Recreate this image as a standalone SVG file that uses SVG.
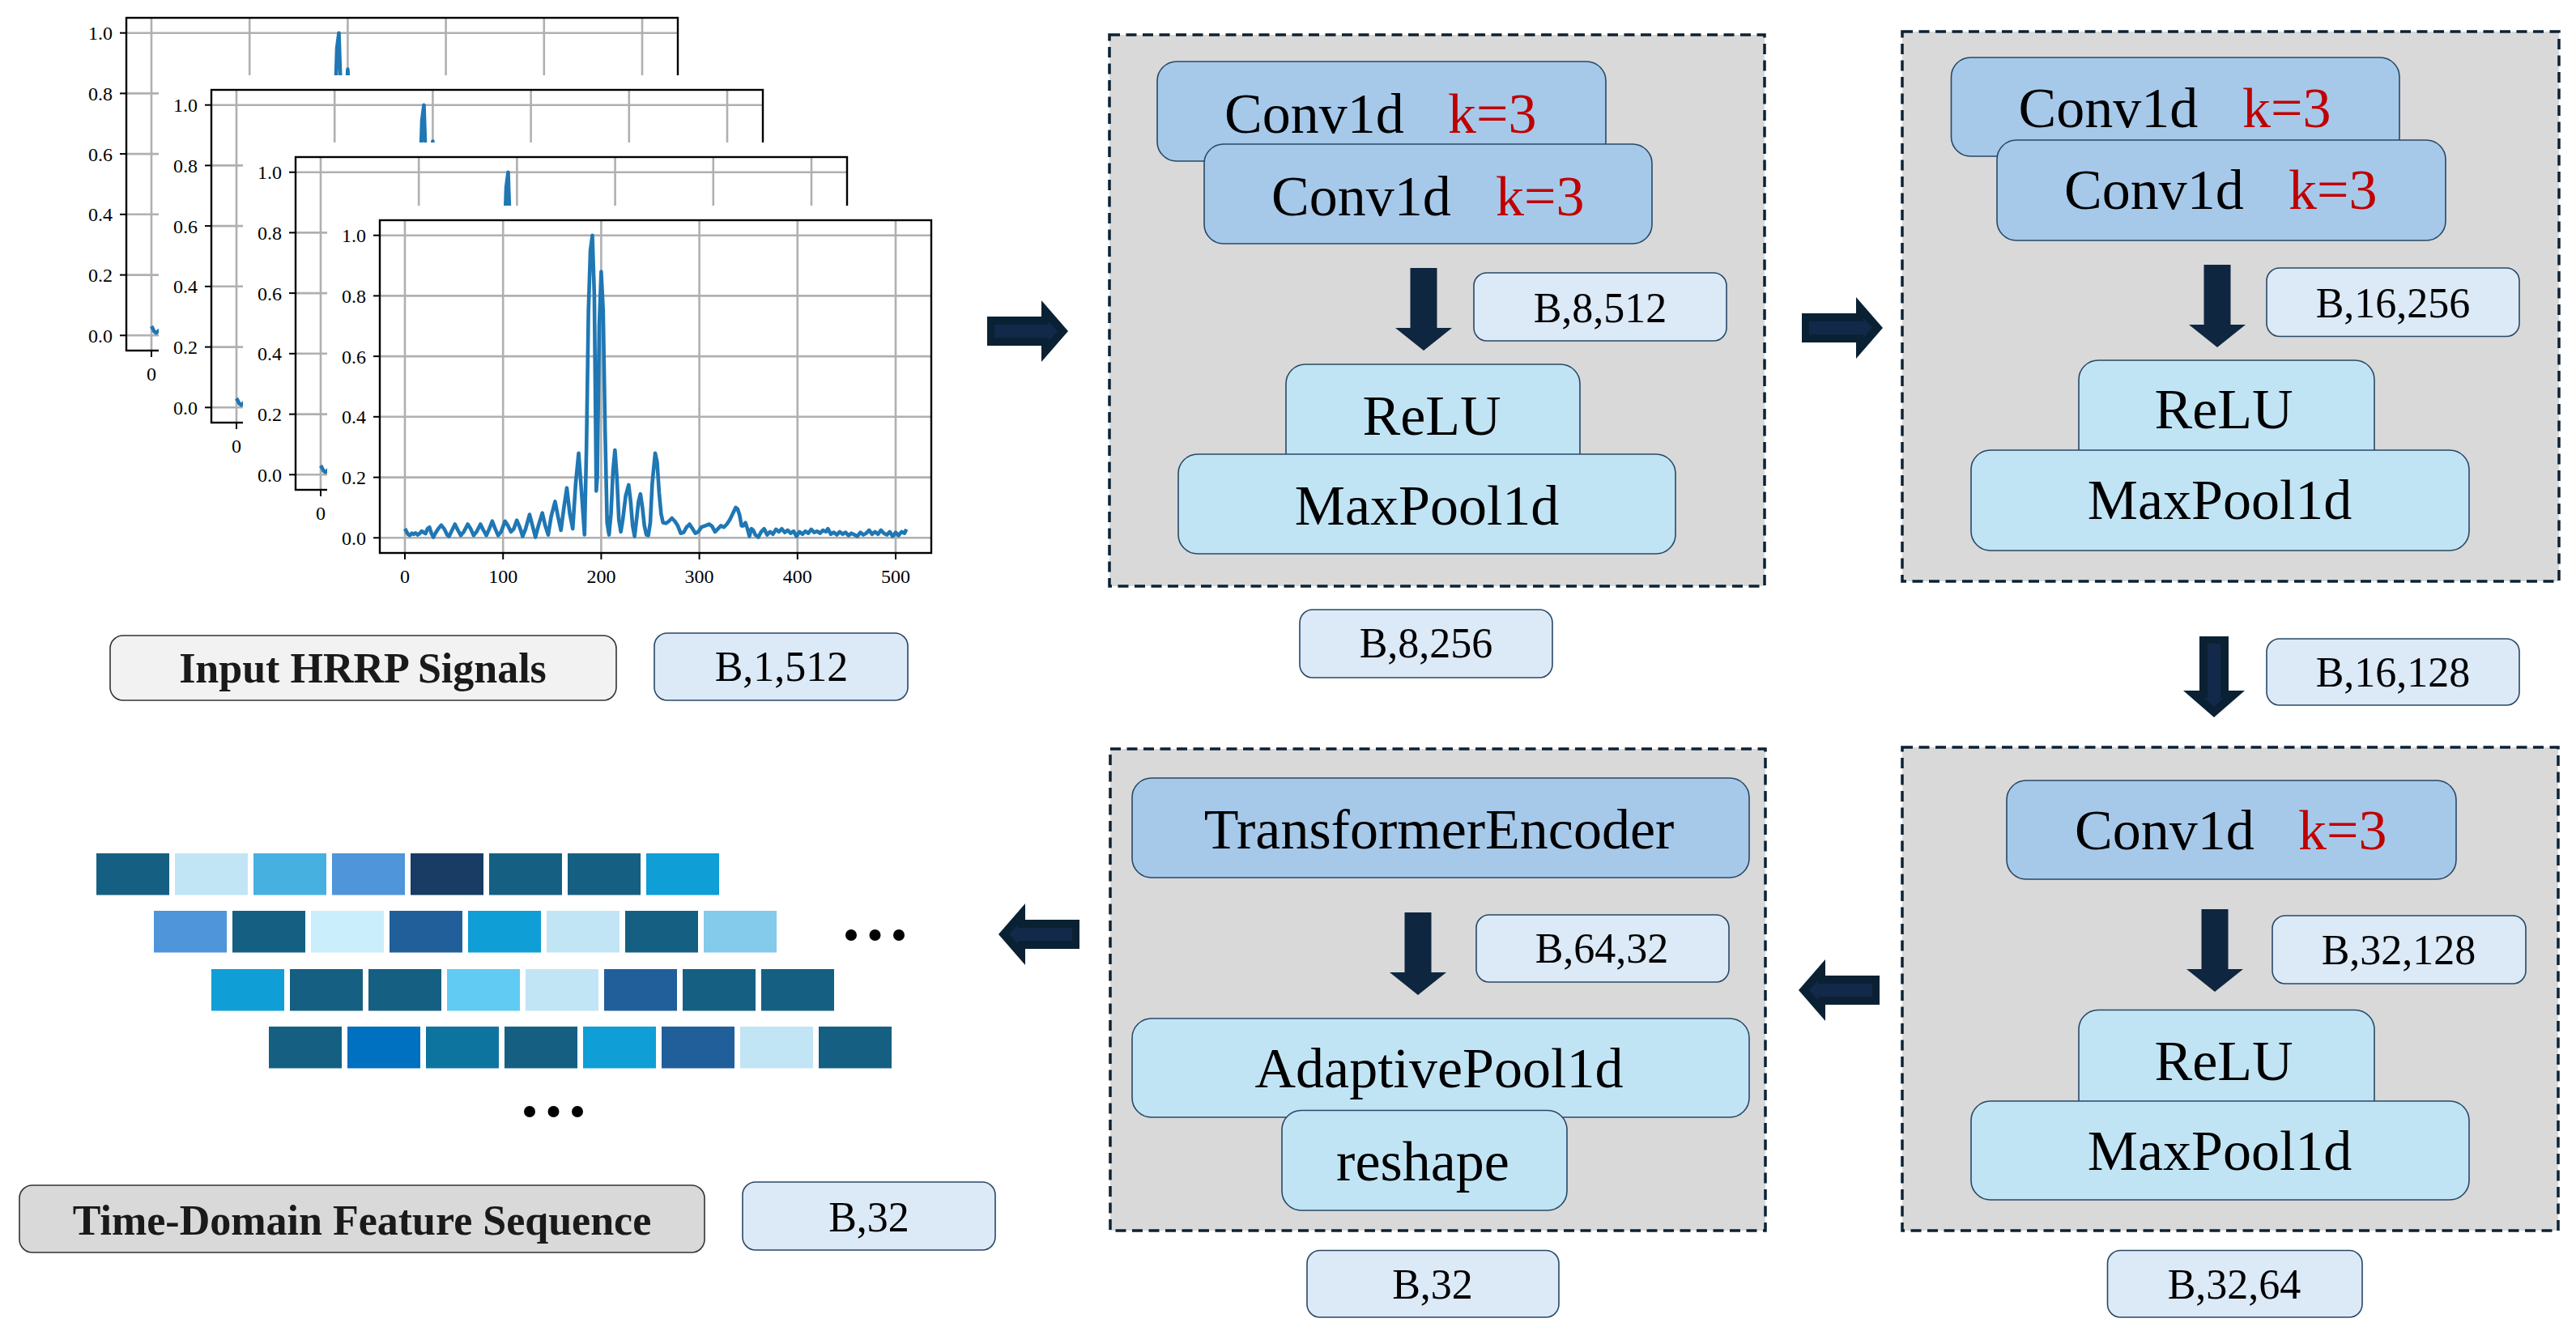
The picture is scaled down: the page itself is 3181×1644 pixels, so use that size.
<svg xmlns="http://www.w3.org/2000/svg" width="3181" height="1644" viewBox="0 0 3181 1644">
<style>
.tk{font-family:"Liberation Serif","Times New Roman",serif;font-size:24px;fill:#000}
.nd{font-family:"Liberation Serif","Times New Roman",serif;font-size:70px;fill:#000}
.lb{font-family:"Liberation Serif","Times New Roman",serif;font-size:52px;fill:#000}
.bt{font-family:"Liberation Serif","Times New Roman",serif;font-size:52px;font-weight:bold;fill:#1a1a1a}
.red{fill:#c00000}
.cont{fill:#d9d9d9;stroke:#0c2234;stroke-width:3.5;stroke-dasharray:13 7.5}
.conv{fill:#a6c9ea;stroke:#284866;stroke-width:1.6}
.lt{fill:#c1e4f5;stroke:#284866;stroke-width:1.6}
.lab{fill:#dce9f7;stroke:#284866;stroke-width:1.6}
.grid line{stroke:#b0b0b0;stroke-width:2.6}
.tks line{stroke:#000;stroke-width:2}
</style>
<defs>
<g id="plot">
<rect x="-65" y="-18" width="790" height="485" fill="#fff"/>
<g class="grid">
<line x1="31" y1="0" x2="31" y2="411"/><line x1="152.2" y1="0" x2="152.2" y2="411"/><line x1="273.4" y1="0" x2="273.4" y2="411"/><line x1="394.6" y1="0" x2="394.6" y2="411"/><line x1="515.8" y1="0" x2="515.8" y2="411"/><line x1="637" y1="0" x2="637" y2="411"/>
<line x1="0" y1="392.3" x2="681" y2="392.3"/><line x1="0" y1="317.6" x2="681" y2="317.6"/><line x1="0" y1="242.8" x2="681" y2="242.8"/><line x1="0" y1="168.1" x2="681" y2="168.1"/><line x1="0" y1="93.4" x2="681" y2="93.4"/><line x1="0" y1="18.7" x2="681" y2="18.7"/>
</g>
<polyline transform="translate(31 392.3) scale(1.212 -373.6)" vector-effect="non-scaling-stroke" fill="none" stroke="#1f77b4" stroke-width="4.6" stroke-linejoin="round" points="0,0.030 1,0.025 3,0.012 5,0.008 7,0.015 9,0.012 11,0.016 13,0.010 15,0.014 17,0.022 19,0.018 21,0.014 23,0.030 25,0.035 27,0.015 29,0.002 31,0.015 34,0.030 37,0.042 40,0.030 43,0.010 45,0.005 48,0.025 51,0.045 54,0.025 57,0.008 60,0.020 64,0.045 67,0.030 70,0.008 73,0.020 77,0.045 80,0.025 83,0.008 86,0.030 89,0.055 92,0.030 95,0.008 98,0.020 102,0.055 105,0.040 108,0.020 111,0.030 114,0.058 117,0.035 120,0.005 123,0.030 127,0.077 130,0.040 133,0.002 136,0.040 140,0.082 143,0.040 146,0.010 149,0.070 153,0.120 156,0.070 159,0.025 162,0.100 165,0.165 168,0.080 171,0.030 174,0.180 177,0.280 180,0.150 183,0.010 185,0.300 187,0.750 189,0.950 191,1.000 193,0.800 195,0.155 196,0.200 198,0.700 200,0.880 202,0.750 204,0.350 206,0.050 208,0.010 210,0.080 212,0.220 214,0.290 216,0.200 218,0.060 220,0.020 222,0.060 225,0.140 228,0.175 230,0.120 232,0.040 234,0.005 236,0.060 238,0.120 240,0.145 242,0.100 244,0.040 246,0.010 248,0.008 250,0.050 252,0.180 255,0.280 257,0.250 259,0.150 261,0.080 263,0.050 266,0.048 269,0.055 272,0.065 275,0.055 278,0.040 281,0.015 284,0.018 287,0.035 290,0.045 293,0.030 296,0.015 299,0.020 302,0.035 306,0.040 310,0.045 313,0.038 316,0.020 319,0.030 322,0.040 325,0.035 328,0.045 331,0.060 334,0.080 337,0.100 339,0.095 341,0.075 343,0.040 345,0.040 347,0.050 349,0.030 351,0.005 353,0.030 355,0.025 357,0.010 360,0.002 363,0.020 366,0.030 369,0.010 372,0.020 375,0.012 378,0.028 381,0.020 384,0.030 387,0.018 390,0.025 393,0.015 396,0.022 399,0.005 402,0.020 405,0.012 408,0.022 411,0.015 414,0.028 417,0.018 420,0.022 423,0.015 426,0.025 429,0.020 431,0.030 434,0.012 437,0.018 440,0.010 443,0.020 446,0.012 449,0.018 452,0.008 455,0.015 458,0.010 461,0.005 464,0.018 467,0.010 470,0.015 473,0.025 476,0.012 479,0.020 482,0.012 485,0.025 488,0.015 491,0.010 494,0.020 497,0.005 500,0.018 503,0.008 506,0.020 509,0.015 511,0.028"/>
<rect x="0" y="0" width="681" height="411" fill="none" stroke="#000" stroke-width="2.4"/>
<g class="tks">
<line x1="-8" y1="392.3" x2="0" y2="392.3"/><line x1="-8" y1="317.6" x2="0" y2="317.6"/><line x1="-8" y1="242.8" x2="0" y2="242.8"/><line x1="-8" y1="168.1" x2="0" y2="168.1"/><line x1="-8" y1="93.4" x2="0" y2="93.4"/><line x1="-8" y1="18.7" x2="0" y2="18.7"/>
<line x1="31" y1="411" x2="31" y2="419"/><line x1="152.2" y1="411" x2="152.2" y2="419"/><line x1="273.4" y1="411" x2="273.4" y2="419"/><line x1="394.6" y1="411" x2="394.6" y2="419"/><line x1="515.8" y1="411" x2="515.8" y2="419"/><line x1="637" y1="411" x2="637" y2="419"/>
</g>
<g class="tk" text-anchor="end">
<text x="-17" y="400.8">0.0</text><text x="-17" y="326.1">0.2</text><text x="-17" y="251.3">0.4</text><text x="-17" y="176.6">0.6</text><text x="-17" y="101.9">0.8</text><text x="-17" y="27.2">1.0</text>
</g>
<g class="tk" text-anchor="middle">
<text x="31" y="448">0</text><text x="152.2" y="448">100</text><text x="273.4" y="448">200</text><text x="394.6" y="448">300</text><text x="515.8" y="448">400</text><text x="637" y="448">500</text>
</g>
</g>
<g id="harrow">
<polygon points="0,-18 67,-18 67,-38 100,0 67,38 67,18 0,18" fill="#0a2133"/>
<polygon points="9,-8 76,-8 76,-12 87,0 76,12 76,8 9,8" fill="#13294a"/>
</g>
<polygon id="darrow" points="-16.5,0 16.5,0 16.5,74 35,74 0,102 -35,74 -16.5,74" fill="#0f2640"/>
</defs>
<rect width="3181" height="1644" fill="#fff"/>

<g id="input-signals">
<use href="#plot" transform="translate(156 22)"/>
<use href="#plot" transform="translate(261 111)"/>
<use href="#plot" transform="translate(365 194)"/>
<use href="#plot" transform="translate(469 272)"/>
</g>

<g id="input-label">
<rect x="136" y="785" width="625" height="80" rx="16" fill="#f2f2f2" stroke="#333" stroke-width="1.6"/>
<text class="bt" x="448" y="843" text-anchor="middle">Input HRRP Signals</text>
</g>
<g id="shape-input">
<rect class="lab" x="808" y="782" width="313" height="83" rx="16"/>
<text class="lb" x="965" y="841" text-anchor="middle">B,1,512</text>
</g>

<g id="block1">
<rect class="cont" x="1370" y="43" width="809" height="681"/>
<rect class="conv" x="1429" y="76" width="554" height="123" rx="24"/>
<text class="nd" x="1512" y="163.5">Conv1d<tspan class="red" x="1788">k=3</tspan></text>
<rect class="conv" x="1487" y="178" width="553" height="123" rx="24"/>
<text class="nd" x="1570" y="266">Conv1d<tspan class="red" x="1847">k=3</tspan></text>
<rect class="lab" x="1820" y="337" width="312" height="84" rx="16"/>
<text class="lb" x="1976" y="398" text-anchor="middle">B,8,512</text>
<rect class="lt" x="1588" y="450" width="363" height="150" rx="24"/>
<text class="nd" x="1768" y="537" text-anchor="middle">ReLU</text>
<rect class="lt" x="1455" y="561" width="614" height="123" rx="24"/>
<text class="nd" x="1762" y="647.5" text-anchor="middle">MaxPool1d</text>
</g>
<g id="shape-b8-256">
<rect class="lab" x="1605" y="753" width="312" height="84" rx="16"/>
<text class="lb" x="1761" y="812" text-anchor="middle">B,8,256</text>
</g>

<g id="block2">
<rect class="cont" x="2349" y="39" width="811" height="679"/>
<rect class="conv" x="2409.5" y="71" width="553.5" height="122" rx="24"/>
<text class="nd" x="2492.5" y="157">Conv1d<tspan class="red" x="2769">k=3</tspan></text>
<rect class="conv" x="2466" y="173" width="554" height="124" rx="24"/>
<text class="nd" x="2549" y="258">Conv1d<tspan class="red" x="2826">k=3</tspan></text>
<rect class="lab" x="2799" y="331" width="312" height="84.5" rx="16"/>
<text class="lb" x="2955" y="392" text-anchor="middle">B,16,256</text>
<rect class="lt" x="2567" y="445" width="365" height="150" rx="24"/>
<text class="nd" x="2746" y="529" text-anchor="middle">ReLU</text>
<rect class="lt" x="2434" y="556" width="615" height="124" rx="24"/>
<text class="nd" x="2741" y="640.5" text-anchor="middle">MaxPool1d</text>
</g>
<g id="shape-b16-128">
<rect class="lab" x="2799" y="789" width="312" height="82" rx="16"/>
<text class="lb" x="2955" y="848" text-anchor="middle">B,16,128</text>
</g>

<g id="block3">
<rect class="cont" x="2349" y="923" width="810" height="597"/>
<rect class="conv" x="2478" y="964" width="555" height="122" rx="24"/>
<text class="nd" x="2562" y="1049">Conv1d<tspan class="red" x="2838">k=3</tspan></text>
<rect class="lab" x="2806" y="1131" width="313" height="84" rx="16"/>
<text class="lb" x="2962" y="1191" text-anchor="middle">B,32,128</text>
<rect class="lt" x="2567" y="1247.5" width="365" height="150" rx="24"/>
<text class="nd" x="2746" y="1334" text-anchor="middle">ReLU</text>
<rect class="lt" x="2434" y="1360" width="615" height="122" rx="24"/>
<text class="nd" x="2741" y="1444.5" text-anchor="middle">MaxPool1d</text>
</g>
<g id="shape-b32-64">
<rect class="lab" x="2602.5" y="1544.5" width="314.5" height="82.5" rx="16"/>
<text class="lb" x="2759" y="1604" text-anchor="middle">B,32,64</text>
</g>

<g id="block4">
<rect class="cont" x="1371" y="925" width="809" height="595"/>
<rect class="conv" x="1398" y="961" width="762" height="123" rx="24"/>
<text class="nd" x="1777" y="1048" text-anchor="middle">TransformerEncoder</text>
<rect class="lab" x="1823" y="1130" width="312" height="83" rx="16"/>
<text class="lb" x="1978" y="1189" text-anchor="middle">B,64,32</text>
<rect class="lt" x="1398" y="1258" width="762" height="122" rx="24"/>
<text class="nd" x="1777" y="1343" text-anchor="middle">AdaptivePool1d</text>
<rect class="lt" x="1583" y="1371.5" width="352" height="123.5" rx="24"/>
<text class="nd" x="1757" y="1458" text-anchor="middle">reshape</text>
</g>
<g id="shape-b32-out">
<rect class="lab" x="1614" y="1544.5" width="311" height="82.5" rx="16"/>
<text class="lb" x="1769" y="1604" text-anchor="middle">B,32</text>
</g>

<g id="feature-sequence">
<g>
<rect x="119" y="1054" width="90" height="51.5" fill="#156082"/>
<rect x="216" y="1054" width="90" height="51.5" fill="#c1e5f5"/>
<rect x="313" y="1054" width="90" height="51.5" fill="#46b1e1"/>
<rect x="410" y="1054" width="90" height="51.5" fill="#4e95d9"/>
<rect x="507" y="1054" width="90" height="51.5" fill="#183c63"/>
<rect x="604" y="1054" width="90" height="51.5" fill="#156082"/>
<rect x="701" y="1054" width="90" height="51.5" fill="#156082"/>
<rect x="798" y="1054" width="90" height="51.5" fill="#0f9ed5"/>
</g>
<g>
<rect x="190" y="1125" width="90" height="51.5" fill="#4e95d9"/>
<rect x="287" y="1125" width="90" height="51.5" fill="#156082"/>
<rect x="384" y="1125" width="90" height="51.5" fill="#caeefb"/>
<rect x="481" y="1125" width="90" height="51.5" fill="#215f9a"/>
<rect x="578" y="1125" width="90" height="51.5" fill="#0f9ed5"/>
<rect x="675" y="1125" width="90" height="51.5" fill="#c1e5f5"/>
<rect x="772" y="1125" width="90" height="51.5" fill="#156082"/>
<rect x="869" y="1125" width="90" height="51.5" fill="#83caeb"/>
</g>
<g>
<rect x="261" y="1197" width="90" height="51.5" fill="#0f9ed5"/>
<rect x="358" y="1197" width="90" height="51.5" fill="#156082"/>
<rect x="455" y="1197" width="90" height="51.5" fill="#156082"/>
<rect x="552" y="1197" width="90" height="51.5" fill="#61cbf3"/>
<rect x="649" y="1197" width="90" height="51.5" fill="#c1e5f5"/>
<rect x="746" y="1197" width="90" height="51.5" fill="#215f9a"/>
<rect x="843" y="1197" width="90" height="51.5" fill="#156082"/>
<rect x="940" y="1197" width="90" height="51.5" fill="#156082"/>
</g>
<g>
<rect x="332" y="1268" width="90" height="51.5" fill="#156082"/>
<rect x="429" y="1268" width="90" height="51.5" fill="#0070c0"/>
<rect x="526" y="1268" width="90" height="51.5" fill="#0d74a0"/>
<rect x="623" y="1268" width="90" height="51.5" fill="#156082"/>
<rect x="720" y="1268" width="90" height="51.5" fill="#0f9ed5"/>
<rect x="817" y="1268" width="90" height="51.5" fill="#215f9a"/>
<rect x="914" y="1268" width="90" height="51.5" fill="#c1e5f5"/>
<rect x="1011" y="1268" width="90" height="51.5" fill="#156082"/>
</g>
<g fill="#000">
<circle cx="1051" cy="1155" r="7"/><circle cx="1080.5" cy="1155" r="7"/><circle cx="1110" cy="1155" r="7"/>
<circle cx="654" cy="1373" r="7"/><circle cx="683.5" cy="1373" r="7"/><circle cx="713" cy="1373" r="7"/>
</g>
</g>

<g id="output-label">
<rect x="24" y="1464" width="846" height="83" rx="16" fill="#d9d9d9" stroke="#333" stroke-width="1.6"/>
<text class="bt" x="447" y="1525" text-anchor="middle">Time-Domain Feature Sequence</text>
</g>
<g id="shape-output">
<rect class="lab" x="917" y="1460" width="312" height="84" rx="16"/>
<text class="lb" x="1073" y="1521" text-anchor="middle">B,32</text>
</g>

<g id="connectors">
<use href="#harrow" transform="translate(1219 409)"/>
<use href="#harrow" transform="translate(2225 405)"/>
<use href="#harrow" transform="translate(2734 786) rotate(90)"/>
<use href="#harrow" transform="translate(2321 1223) rotate(180)"/>
<use href="#harrow" transform="translate(1333 1154) rotate(180)"/>
<use href="#darrow" transform="translate(1758 331)"/>
<use href="#darrow" transform="translate(2738 327)"/>
<use href="#darrow" transform="translate(2735 1123)"/>
<use href="#darrow" transform="translate(1751 1127)"/>
</g>
</svg>
